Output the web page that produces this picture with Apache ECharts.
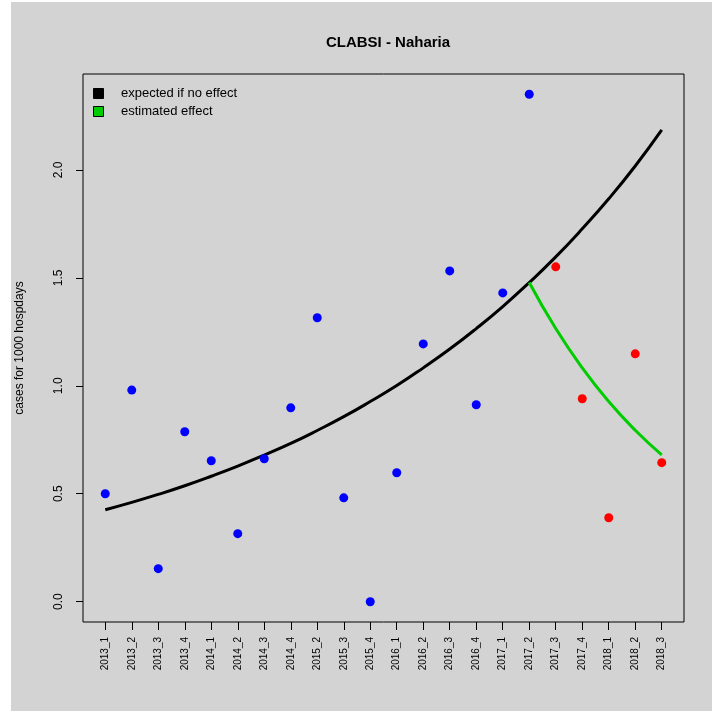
<!DOCTYPE html>
<html>
<head>
<meta charset="utf-8">
<script src="https://cdn.jsdelivr.net/npm/echarts@6/dist/echarts.min.js"></script>
<style>
html,body{margin:0;padding:0;background:#ffffff;}
#chart{width:712px;height:711px;}
</style>
</head>
<body>
<div id="chart"></div>
<script>
const categories = ["2013_1","2013_2","2013_3","2013_4","2014_1","2014_2","2014_3","2014_4","2015_2","2015_3","2015_4","2016_1","2016_2","2016_3","2016_4","2017_1","2017_2","2017_3","2017_4","2018_1","2018_2","2018_3"];
// observed values before intervention (blue), indices 1..17
const observedBefore = [0.50,0.98,0.153,0.787,0.653,0.315,0.662,0.898,1.315,0.481,0.0,0.597,1.194,1.532,0.912,1.43,2.35];
// observed values after intervention (red), indices 18..22
const observedAfter = [1.551,0.94,0.389,1.148,0.644];
// expected if no effect (black curve), indices 1..22
const expectedCurve = [0.426,0.460,0.497,0.537,0.581,0.628,0.679,0.733,0.793,0.857,0.927,1.001,1.083,1.170,1.265,1.367,1.478,1.597,1.727,1.866,2.018,2.185];
// estimated effect (green curve), indices 17..22
const effectCurve = [1.478,1.265,1.083,0.927,0.794,0.680];
const yTicks = [0, 0.5, 1.0, 1.5, 2.0];

const blueData = observedBefore.map((v,i)=>[i+1, v]);
const redData = observedAfter.map((v,i)=>[i+18, v]);
const blackData = expectedCurve.map((v,i)=>[i+1, v]);
const greenData = effectCurve.map((v,i)=>[i+17, v]);

const chart = echarts.init(document.getElementById('chart'), null, {renderer:'canvas'});
const font = 'Liberation Sans, Arial, sans-serif';
chart.setOption({
  animation:false,
  backgroundColor:'#ffffff',
  graphic:[
    {type:'rect', z:-10, shape:{x:11,y:2,width:701,height:709}, style:{fill:'#d3d3d3'}},
    {type:'rect', left:93, top:88, z:50, shape:{width:10,height:10}, style:{fill:'#000000', stroke:'#000', lineWidth:1}},
    {type:'rect', left:93, top:106, z:50, shape:{width:10,height:10}, style:{fill:'#00cc00', stroke:'#000', lineWidth:1}},
    {type:'text', left:121, top:87, z:50, style:{text:'expected if no effect', font:'13px '+font, fill:'#000'}},
    {type:'text', left:121, top:105, z:50, style:{text:'estimated effect', font:'13px '+font, fill:'#000'}}
  ],
  title:{text:'CLABSI - Naharia', left:383, top:30, textAlign:'center',
    textStyle:{fontFamily:font, fontSize:15, fontWeight:'bold', color:'#000'}},
  grid:{left:83, right:28, top:74, bottom:89, show:true, borderColor:'#000', borderWidth:1, backgroundColor:'transparent'},
  xAxis:{type:'value', min:0.16, max:22.84, position:'bottom',
    axisLine:{show:false, onZero:false},
    splitLine:{show:false},
    axisTick:{show:true, inside:false, length:8, lineStyle:{color:'#000'}, customValues:categories.map((c,i)=>i+1)},
    axisLabel:{show:true, inside:false, rotate:90, margin:15, fontFamily:font, fontSize:10, color:'#000',
      customValues:categories.map((c,i)=>i+1),
      formatter:(v)=>categories[Math.round(v)-1] || ''}
  },
  yAxis:{type:'value', min:-0.094, max:2.444, position:'left',
    name:'cases for 1000 hospdays', nameLocation:'middle', nameGap:57, nameRotate:90,
    nameTextStyle:{fontFamily:font, fontSize:12, color:'#000'},
    axisLine:{show:false, onZero:false},
    splitLine:{show:false},
    axisTick:{show:true, inside:false, length:7, lineStyle:{color:'#000'}, customValues:yTicks},
    axisLabel:{show:true, inside:false, rotate:90, margin:18, fontFamily:font, fontSize:12, color:'#000',
      customValues:yTicks, formatter:(v)=>v.toFixed(1)}
  },
  series:[
    {type:'line', data:blackData, smooth:true, symbol:'none', lineStyle:{color:'#000', width:3}, z:3},
    {type:'line', data:greenData, smooth:true, symbol:'none', lineStyle:{color:'#00cc00', width:3}, z:3},
    {type:'scatter', data:blueData, symbol:'circle', symbolSize:9, itemStyle:{color:'#0000ff', opacity:1}, z:4},
    {type:'scatter', data:redData, symbol:'circle', symbolSize:9, itemStyle:{color:'#ff0000', opacity:1}, z:4}
  ]
});
</script>
</body>
</html>
